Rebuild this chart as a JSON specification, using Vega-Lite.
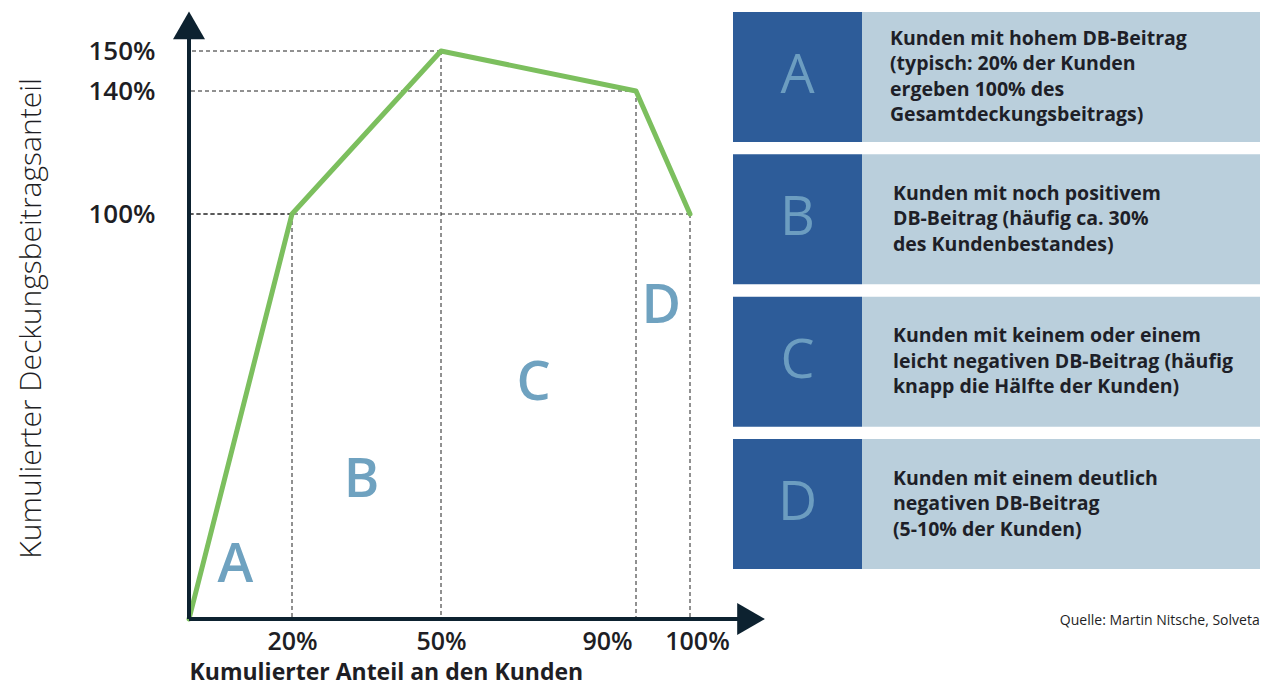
{
  "$schema": "https://vega.github.io/schema/vega-lite/v6.json",
  "width": 1073,
  "height": 619,
  "autosize": {"type": "none"},
  "padding": {"left": 189, "top": 0, "right": 0, "bottom": 67},
  "background": "white",
  "config": {"view": {"stroke": null}, "font": "Open Sans"},
  "datasets": {
    "kurve": [
      {"kunden": 0, "db": 0},
      {"kunden": 20, "db": 100},
      {"kunden": 50, "db": 150},
      {"kunden": 90, "db": 140},
      {"kunden": 100, "db": 100}
    ],
    "segmente": [
      {"gruppe": "A", "kunden": 9, "db": 13},
      {"gruppe": "B", "kunden": 34, "db": 34},
      {"gruppe": "C", "kunden": 69, "db": 58},
      {"gruppe": "D", "kunden": 94.7, "db": 77}
    ],
    "boxen": [
      {"gruppe": "A", "beschreibung": ["Kunden mit hohem DB-Beitrag", "(typisch: 20% der Kunden", "ergeben 100% des", "Gesamtdeckungsbeitrags)"]},
      {"gruppe": "B", "beschreibung": ["Kunden mit noch positivem", "DB-Beitrag (häufig ca. 30%", "des Kundenbestandes)"]},
      {"gruppe": "C", "beschreibung": ["Kunden mit keinem oder einem", "leicht negativen DB-Beitrag (häufig", "knapp die Hälfte der Kunden)"]},
      {"gruppe": "D", "beschreibung": ["Kunden mit einem deutlich", "negativen DB-Beitrag", "(5-10% der Kunden)"]}
    ],
    "eins": [{"quelle": "Quelle: Martin Nitsche, Solveta"}]
  },
  "layer": [
    {
      "layer": [
        {
          "data": {"name": "kurve"},
          "transform": [{"filter": "datum.db > 0"}],
          "mark": {"type": "rule", "strokeDash": [4, 3], "strokeWidth": 1, "color": "#222222"},
          "encoding": {
            "y": {"field": "db", "type": "quantitative"},
            "x": {"field": "kunden", "type": "quantitative"},
            "x2": {"datum": 0}
          }
        },
        {
          "data": {"name": "kurve"},
          "transform": [{"filter": "datum.db > 0"}],
          "mark": {"type": "rule", "strokeDash": [4, 3], "strokeWidth": 1, "color": "#222222"},
          "encoding": {
            "x": {"field": "kunden", "type": "quantitative"},
            "y": {"field": "db", "type": "quantitative"},
            "y2": {"datum": 0}
          }
        },
        {
          "data": {"name": "kurve"},
          "mark": {"type": "line", "color": "#7cbf5e", "strokeWidth": 5, "strokeJoin": "round", "strokeCap": "round"},
          "encoding": {
            "x": {
              "field": "kunden", "type": "quantitative",
              "title": "Kumulierter Anteil an den Kunden",
              "scale": {"domain": [0, 20, 50, 90, 100], "range": [0, 103, 252, 447, 501], "zero": false, "nice": false},
              "axis": {
                "values": [20, 50, 90, 100],
                "labelExpr": "datum.value + '%'",
                "grid": false, "ticks": false, "domain": false,
                "labelFontSize": 25, "labelFontWeight": 600, "labelColor": "#1e1e24",
                "labelPadding": 10, "labelFlush": false, "labelOverlap": false,
                "labelOffset": {"condition": [{"test": "datum.value == 90", "value": -29}, {"test": "datum.value == 100", "value": 7}], "value": 0},
                "titleFontSize": 23, "titleFontWeight": "bold", "titleColor": "#1e1e24",
                "titleAnchor": "start", "titleAlign": "left", "titlePadding": 7
              }
            },
            "y": {
              "field": "db", "type": "quantitative",
              "title": "Kumulierter Deckungsbeitragsanteil",
              "scale": {"domain": [0, 100, 140, 150], "range": [619, 214, 91, 51], "zero": false, "nice": false},
              "axis": {
                "values": [100, 140, 150],
                "labelExpr": "datum.value + '%'",
                "grid": false, "ticks": false, "domain": false,
                "labelFontSize": 26, "labelFontWeight": 600, "labelColor": "#1e1e24",
                "labelPadding": 34, "labelAlign": "right", "labelBaseline": "middle", "labelOverlap": false,
                "titleFontSize": 30, "titleFontWeight": 300, "titleColor": "#1e1e24",
                "titleAngle": 270, "titleX": -158, "titleY": 318, "titleAlign": "center", "titleBaseline": "middle"
              }
            }
          }
        },
        {
          "data": {"name": "eins"},
          "mark": {"type": "rule", "color": "#0d2230", "strokeWidth": 4},
          "encoding": {
            "x": {"datum": 0, "type": "quantitative"},
            "y": {"datum": 0, "type": "quantitative"},
            "y2": {"datum": 156}
          }
        },
        {
          "data": {"name": "eins"},
          "mark": {"type": "rule", "color": "#0d2230", "strokeWidth": 4},
          "encoding": {
            "y": {"datum": 0, "type": "quantitative"},
            "x": {"datum": 0, "type": "quantitative"},
            "x2": {"datum": 111}
          }
        },
        {
          "data": {"name": "eins"},
          "mark": {"type": "point", "shape": "triangle-up", "size": 1024, "filled": true, "color": "#0d2230", "opacity": 1, "strokeWidth": 0},
          "encoding": {
            "x": {"datum": 0, "type": "quantitative"},
            "y": {"datum": 156.4, "type": "quantitative"}
          }
        },
        {
          "data": {"name": "eins"},
          "mark": {"type": "point", "shape": "triangle-right", "size": 1024, "filled": true, "color": "#0d2230", "opacity": 1, "strokeWidth": 0},
          "encoding": {
            "x": {"datum": 111.3, "type": "quantitative"},
            "y": {"datum": 0, "type": "quantitative"}
          }
        },
        {
          "data": {"name": "segmente"},
          "mark": {"type": "text", "fontSize": 54, "fontWeight": 600, "color": "#6fa2c0", "align": "center", "baseline": "middle"},
          "encoding": {
            "x": {"field": "kunden", "type": "quantitative"},
            "y": {"field": "db", "type": "quantitative"},
            "text": {"field": "gruppe", "type": "nominal"}
          }
        },
        {
          "data": {"name": "eins"},
          "mark": {"type": "text", "fontSize": 14, "color": "#1e1e24", "align": "right", "baseline": "middle", "dy": 2},
          "encoding": {
            "x": {"datum": 205.5, "type": "quantitative"},
            "y": {"datum": 0, "type": "quantitative"},
            "text": {"field": "quelle", "type": "nominal"}
          }
        }
      ]
    },
    {
      "data": {"name": "boxen"},
      "layer": [
        {
          "mark": {"type": "rect", "color": "#bacfdc"},
          "encoding": {
            "y": {"field": "gruppe", "type": "nominal", "axis": null,
                  "scale": {"domain": ["A", "B", "C", "D"], "range": [12, 569], "paddingInner": 0.087, "paddingOuter": 0}},
            "x": {"datum": 129, "type": "quantitative", "axis": null, "scale": {"domain": [0, 527], "range": [544, 1071], "zero": false, "nice": false}},
            "x2": {"datum": 527}
          }
        },
        {
          "mark": {"type": "rect", "color": "#2d5c99"},
          "encoding": {
            "y": {"field": "gruppe", "type": "nominal", "axis": null},
            "x": {"datum": 0, "type": "quantitative", "axis": null},
            "x2": {"datum": 129}
          }
        },
        {
          "mark": {"type": "text", "fontSize": 54, "fontWeight": 400, "color": "#6c9dc0", "align": "center", "baseline": "middle"},
          "encoding": {
            "y": {"field": "gruppe", "type": "nominal", "axis": null},
            "x": {"datum": 64.5, "type": "quantitative", "axis": null},
            "text": {"field": "gruppe", "type": "nominal"}
          }
        },
        {
          "transform": [{"filter": "length(datum.beschreibung) == 4"}],
          "mark": {"type": "text", "fontSize": 19.5, "fontWeight": "bold", "color": "#1e1f28", "align": "left", "baseline": "middle", "lineHeight": 25.5, "dy": -38.25},
          "encoding": {
            "y": {"field": "gruppe", "type": "nominal", "axis": null},
            "x": {"datum": 157, "type": "quantitative", "axis": null},
            "text": {"field": "beschreibung", "type": "nominal"}
          }
        },
        {
          "transform": [{"filter": "length(datum.beschreibung) == 3"}],
          "mark": {"type": "text", "fontSize": 19.5, "fontWeight": "bold", "color": "#1e1f28", "align": "left", "baseline": "middle", "lineHeight": 25.5, "dy": -25.5},
          "encoding": {
            "y": {"field": "gruppe", "type": "nominal", "axis": null},
            "x": {"datum": 160, "type": "quantitative", "axis": null},
            "text": {"field": "beschreibung", "type": "nominal"}
          }
        }
      ]
    }
  ],
  "resolve": {"scale": {"x": "independent", "y": "independent"}}
}
